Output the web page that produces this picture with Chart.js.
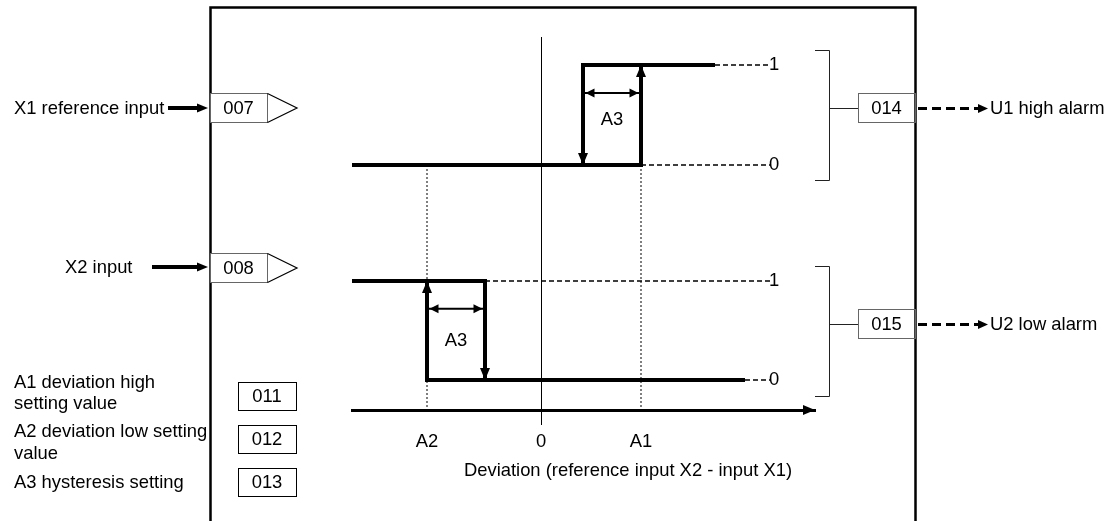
<!DOCTYPE html>
<html lang="en">
<head>
  <meta charset="UTF-8">
  <title>Deviation alarm</title>
  <script src="https://cdn.jsdelivr.net/npm/chart.js"></script>
  <style>
    html, body { margin: 0; padding: 0; background: #fff; }
    #wrap { position: relative; width: 1113px; height: 521px; }
  </style>
</head>
<body>
  <div id="wrap"><canvas id="alarmChart"></canvas></div>

  <script>
    // setting values, in deviation units
    const A1 = 10;     // deviation high setting
    const A2 = -11.4;  // deviation low setting
    const A3 = 5.8;    // hysteresis

    const tickValues = [A2, 0, A1];
    const tickLabels = ['A2', '0', 'A1'];

    // U1 high alarm: switches on at A1, back off at A1 - A3
    const highX = [-18.9, A1, A1, 17.4];
    const highY = [0, 0, 1, 1];
    const highBackX = [A1, A1 - A3, A1 - A3];
    const highBackY = [1, 1, 0];

    // U2 low alarm: switches off at A2 + A3, back on at A2
    const lowX = [-18.9, A2 + A3, A2 + A3, 20.4];
    const lowY = [1, 1, 0, 0];
    const lowBackX = [A2 + A3, A2, A2];
    const lowBackY = [0, 0, 1];

    const dashEnd = 22.9;      // where the dashed level lines stop
    const yHighMin = -2.45;    // bottom of the upper scale (axis line)

    const FONT = '"Liberation Sans", Arial, Helvetica, sans-serif';
    const FONT_SIZE = 18.4;
    Chart.defaults.font.family = FONT;
    Chart.defaults.font.size = FONT_SIZE;
    Chart.defaults.color = '#000';

    const pts = (xs, ys) => xs.map((x, i) => ({ x: x, y: ys[i] }));

    function thick(data, axis, arrows) {
      return { data: data, yAxisID: axis, borderColor: '#000', borderWidth: 4,
        borderJoinStyle: 'miter', arrows: arrows, arrowLen: 12, arrowHalf: 5 };
    }
    function dashed(data, axis, dash, width) {
      return { data: data, yAxisID: axis, borderColor: '#000', borderWidth: width, borderDash: dash };
    }

    function head(ctx, tx, ty, fx, fy, len, half) {
      const a = Math.atan2(ty - fy, tx - fx);
      ctx.save();
      ctx.translate(tx, ty);
      ctx.rotate(a);
      ctx.beginPath();
      ctx.moveTo(0, 0);
      ctx.lineTo(-len, -half);
      ctx.lineTo(-len, half);
      ctx.closePath();
      ctx.fill();
      ctx.restore();
    }

    const arrowPlugin = {
      id: 'arrowHeads',
      afterDatasetsDraw(chart) {
        const ctx = chart.ctx;
        ctx.fillStyle = '#000';
        chart.data.datasets.forEach((ds, i) => {
          if (!ds.arrows) return;
          const p = chart.getDatasetMeta(i).data;
          ds.arrows.forEach(([from, to]) => {
            const a = p[from], b = p[to];
            const dx = b.x - a.x, dy = b.y - a.y, d = Math.hypot(dx, dy);
            const inset = ds.arrowInset || 0;
            head(ctx, b.x - dx / d * inset, b.y - dy / d * inset, a.x, a.y, ds.arrowLen, ds.arrowHalf);
          });
        });
      }
    };

    function box(ctx, l, t, w, h, label, stroke) {
      ctx.strokeStyle = stroke;
      ctx.lineWidth = 1;
      ctx.strokeRect(l + 0.5, t + 0.5, w, h);
      ctx.textAlign = 'center';
      ctx.fillText(label, l + w / 2, t + h / 2 + 1);
    }

    function line(ctx, x1, y1, x2, y2, w, dash) {
      ctx.lineWidth = w;
      ctx.setLineDash(dash || []);
      ctx.beginPath();
      ctx.moveTo(x1, y1);
      ctx.lineTo(x2, y2);
      ctx.stroke();
      ctx.setLineDash([]);
    }

    const blockPlugin = {
      id: 'blockFrame',
      afterDraw(chart) {
        const ctx = chart.ctx;
        const x = chart.scales.x, yH = chart.scales.yHigh, yL = chart.scales.yLow;
        ctx.save();
        ctx.font = FONT_SIZE + 'px ' + FONT;
        ctx.fillStyle = '#000';
        ctx.strokeStyle = '#000';
        ctx.textBaseline = 'middle';

        // frame of the function block
        ctx.lineWidth = 2.5;
        ctx.beginPath();
        ctx.moveTo(210.5, 521); ctx.lineTo(210.5, 7.5); ctx.lineTo(915.5, 7.5); ctx.lineTo(915.5, 521);
        ctx.stroke();

        // axis arrow head
        head(ctx, chart.chartArea.right, x.top, chart.chartArea.left, x.top, 12, 5);

        // level labels
        ctx.textAlign = 'left';
        const lx = x.getPixelForValue(dashEnd) - 1;
        ctx.fillText('1', lx, yH.getPixelForValue(1));
        ctx.fillText('0', lx, yH.getPixelForValue(0));
        ctx.fillText('1', lx, yL.getPixelForValue(1));
        ctx.fillText('0', lx, yL.getPixelForValue(0));

        // hysteresis labels
        ctx.textAlign = 'center';
        ctx.fillText('A3', x.getPixelForValue(A1 - A3 / 2), yH.getPixelForValue(0.45));
        ctx.fillText('A3', x.getPixelForValue(A2 + A3 / 2), yL.getPixelForValue(0.39));

        // axis title
        ctx.fillText('Deviation (reference input X2 - input X1)', 628, 471);

        // inputs
        ctx.textAlign = 'left';
        ctx.fillText('X1 reference input', 14, 109);
        ctx.fillText('X2 input', 65, 268);
        [[108, 168], [267, 152]].forEach(([y, x0]) => {
          ctx.strokeStyle = '#000';
          line(ctx, x0, y, 199, y, 4);
          head(ctx, 208, y, x0, y, 11, 4.5);
        });
        ctx.fillStyle = '#fff';
        ctx.fillRect(211, 93, 56, 29);
        ctx.fillRect(211, 253, 56, 29);
        ctx.fillStyle = '#000';
        box(ctx, 210, 93, 57, 29, '007', '#666');
        box(ctx, 210, 253, 57, 29, '008', '#666');
        ctx.strokeStyle = '#000';
        ctx.lineWidth = 1.2;
        [[93, 122], [253, 282]].forEach(([t, b]) => {
          ctx.beginPath();
          ctx.moveTo(267.5, t + 0.5); ctx.lineTo(297, (t + b) / 2 + 0.5); ctx.lineTo(267.5, b + 0.5);
          ctx.stroke();
        });

        // outputs
        [[50.5, 180.5, 108, '014', 'U1 high alarm'], [266.5, 396.5, 324, '015', 'U2 low alarm']]
          .forEach(([t, b, y, code, name]) => {
            ctx.strokeStyle = '#222';
            ctx.lineWidth = 1;
            ctx.beginPath();
            ctx.moveTo(815, t); ctx.lineTo(829.5, t); ctx.lineTo(829.5, b); ctx.lineTo(815, b);
            ctx.moveTo(829.5, y + 0.5); ctx.lineTo(858, y + 0.5);
            ctx.stroke();
            box(ctx, 858, y - 15, 57, 29, code, '#666');
            ctx.strokeStyle = '#000';
            line(ctx, 918, y + 0.5, 979, y + 0.5, 3, [9, 5]);
            head(ctx, 988, y + 0.5, 918, y + 0.5, 10, 4.5);
            ctx.textAlign = 'left';
            ctx.fillText(name, 990, y + 1);
          });

        // setting values
        ctx.textAlign = 'left';
        ctx.fillText('A1 deviation high', 14, 382.5);
        ctx.fillText('setting value', 14, 403.5);
        ctx.fillText('A2 deviation low setting', 14, 431.5);
        ctx.fillText('value', 14, 454);
        ctx.fillText('A3 hysteresis setting', 14, 482.5);
        box(ctx, 238, 382, 58, 28, '011', '#000');
        box(ctx, 238, 425, 58, 28, '012', '#000');
        box(ctx, 238, 468, 58, 28, '013', '#000');
        ctx.restore();
      }
    };

    const doubleArrow = (data, axis) => ({
      data: data, yAxisID: axis, borderColor: '#000', borderWidth: 2,
      arrows: [[1, 0], [0, 1]], arrowLen: 9, arrowHalf: 4.5, arrowInset: 2.5
    });

    new Chart(document.getElementById('alarmChart'), {
      type: 'scatter',
      data: {
        datasets: [
          thick(pts(highX, highY), 'yHigh', [[1, 2]]),
          thick(pts(highBackX, highBackY), 'yHigh', [[1, 2]]),
          thick(pts(lowX, lowY), 'yLow', [[1, 2]]),
          thick(pts(lowBackX, lowBackY), 'yLow', [[1, 2]]),
          doubleArrow(pts([A1 - A3, A1], [0.72, 0.72]), 'yHigh'),
          doubleArrow(pts([A2, A2 + A3], [0.72, 0.72]), 'yLow'),
          dashed(pts([highX[3], dashEnd], [1, 1]), 'yHigh', [5, 3], 1.5),
          dashed(pts([A1, dashEnd], [0, 0]), 'yHigh', [5, 3], 1.5),
          dashed(pts([A2 + A3, dashEnd], [1, 1]), 'yLow', [5, 3], 1.5),
          dashed(pts([lowX[3], dashEnd], [0, 0]), 'yLow', [5, 3], 1.5),
          dashed(pts([A2, A2], [0, yHighMin]), 'yHigh', [2, 2], 1),
          dashed(pts([A1, A1], [0, yHighMin]), 'yHigh', [2, 2], 1)
        ]
      },
      options: {
        responsive: true,
        maintainAspectRatio: false,
        animation: false,
        showLine: true,
        elements: { point: { radius: 0, hoverRadius: 0 }, line: { tension: 0, fill: false } },
        layout: { padding: { left: 352, right: 298, top: 37, bottom: 0 } },
        plugins: { legend: { display: false }, tooltip: { enabled: false } },
        scales: {
          x: {
            type: 'linear',
            min: -18.9,
            max: 27.4,
            afterBuildTicks: s => { s.ticks = tickValues.map(v => ({ value: v })); },
            afterFit: s => { s.height = 111; },
            ticks: {
              autoSkip: false, maxRotation: 0, padding: 6,
              callback: (v, i) => tickLabels[i]
            },
            grid: {
              color: c => (c.tick && c.tick.value === 0 ? '#000' : 'rgba(0,0,0,0)'),
              lineWidth: 1,
              tickLength: 15
            },
            border: { display: true, color: '#000', width: 3 }
          },
          yHigh: { type: 'linear', display: false, min: yHighMin, max: 1.28 },
          yLow: { type: 'linear', display: false, min: -0.303, max: 3.465 }
        }
      },
      plugins: [arrowPlugin, blockPlugin]
    });
  </script>
</body>
</html>
